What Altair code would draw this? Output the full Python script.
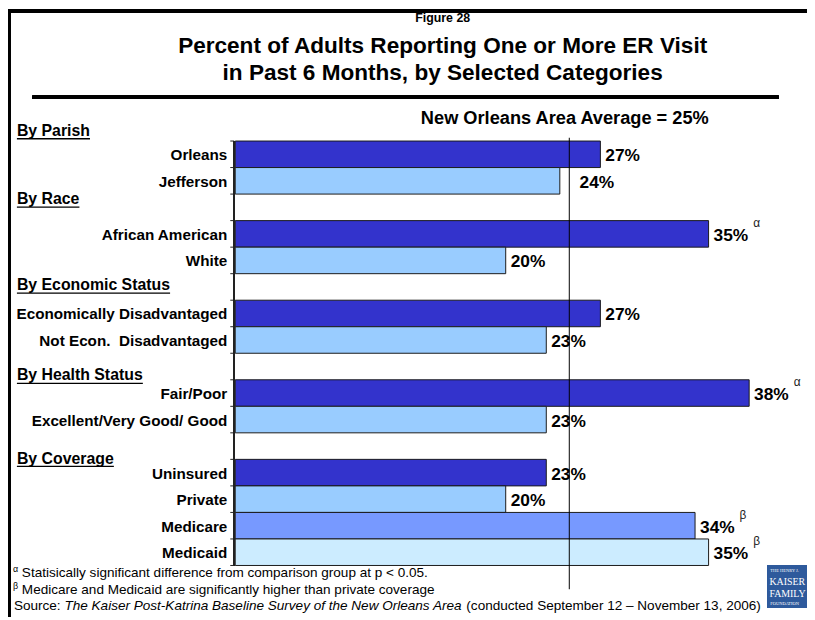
import altair as alt
import pandas as pd

# ---------------- data ----------------
categories = ["Orleans", "Jefferson", "African American", "White",
              "Economically Disadvantaged", "Not Econ.\u00a0 Disadvantaged",
              "Fair/Poor", "Excellent/Very Good/ Good",
              "Uninsured", "Private", "Medicare", "Medicaid"]
values = [27, 24, 35, 20, 27, 23, 38, 23, 23, 20, 34, 35]
tones = ["group", "comparison", "group", "comparison", "group", "comparison",
         "group", "comparison", "group", "comparison", "medicare", "medicaid"]
significance = ["", "", "α", "", "", "", "α", "", "", "", "β", "β"]
headers = ["By Parish", "By Race", "By Economic Status", "By Health Status", "By Coverage"]
average_value = 24.7
average_label = "New Orleans Area Average = 25%"
figure_label = "Figure 28"
title_line1 = "Percent of Adults Reporting One or More ER Visit"
title_line2 = "in Past 6 Months, by Selected Categories"
footnote_alpha = "Statisically significant difference from comparison group at p < 0.05."
footnote_beta = "Medicare and Medicaid are significantly higher than private coverage"
source_prefix = "Source: "
source_title = "The Kaiser Post-Katrina Baseline Survey of the New Orleans Area"
source_rest = "(conducted September 12 \u2013 November 13, 2006)"

# ---------------- layout ----------------
slots = [0, 1, 3, 4, 6, 7, 9, 10, 12, 13, 14, 15]
header_y = [121, 190, 277, 368, 452]
FONT = "Liberation Sans, Arial, sans-serif"
W, H = 807, 612
X0, PX = 229.5, 13.66
xs = alt.Scale(domain=[0, 40], range=[X0, X0 + PX * 40], nice=False, zero=False)
ys = alt.Scale(domain=[0, 16], range=[131.3, 560], nice=False, zero=False)
FN = 13.7

df = pd.DataFrame({"category": categories, "value": values, "tone": tones,
                   "sig": significance, "slot": slots})
df["y0"] = df["slot"]
df["y1"] = df["slot"] + 1
df["mid"] = df["slot"] + 0.5
df["zero"] = 0
df["label"] = df["value"].astype(str) + "%"

color = alt.Color("tone:N", legend=None,
                  scale=alt.Scale(domain=["group", "comparison", "medicare", "medicaid"],
                                  range=["#3333CC", "#99CCFF", "#7799FF", "#CCECFF"]))

base = alt.Chart(df)
bars = base.mark_bar(stroke="#1a1a1a", strokeWidth=1).encode(
    x=alt.X("value:Q", scale=xs, axis=None),
    x2="zero:Q",
    y=alt.Y("y0:Q", scale=ys, axis=None),
    y2="y1:Q",
    color=color,
)

lab_kw = dict(align="left", baseline="middle", font=FONT, fontWeight="bold",
              fontSize=17.5, color="black", dy=2)
vals = base.transform_filter("datum.category != 'Jefferson'").mark_text(dx=5, **lab_kw).encode(
    x=alt.X("value:Q", scale=xs), y=alt.Y("mid:Q", scale=ys), text="label:N")
vals_j = base.transform_filter("datum.category == 'Jefferson'").mark_text(dx=20, **lab_kw).encode(
    x=alt.X("value:Q", scale=xs), y=alt.Y("mid:Q", scale=ys), text="label:N")
sigs = base.transform_filter("datum.sig != ''").mark_text(
    align="left", baseline="middle", font=FONT, fontSize=12, color="#222",
    dx=45, dy=-11).encode(
    x=alt.X("value:Q", scale=xs), y=alt.Y("mid:Q", scale=ys), text="sig:N")

cats = base.mark_text(align="right", baseline="middle", font=FONT, fontWeight="bold",
                      fontSize=15.4, color="black", dy=1).encode(
    x=alt.value(X0 - 8), y=alt.Y("mid:Q", scale=ys), text="category:N")

# axis line with ticks
bounds = pd.DataFrame({"b": list(range(17))})
axis_line = alt.Chart(bounds).mark_rule(color="#222", strokeWidth=1).encode(
    x=alt.value(X0 - 1), y=alt.value(131.3), y2=alt.value(560))
axis_ticks = alt.Chart(bounds).mark_rule(color="#222", strokeWidth=1).encode(
    x=alt.value(X0 - 5), x2=alt.value(X0 - 1), y=alt.Y("b:Q", scale=ys))

avg_df = pd.DataFrame({"avg": [average_value], "label": [average_label]})
avg_rule = alt.Chart(avg_df).mark_rule(color="black", strokeWidth=1).encode(
    x=alt.X("avg:Q", scale=xs), y=alt.value(128), y2=alt.value(584))
avg_text = alt.Chart(avg_df).mark_text(align="left", baseline="middle", font=FONT,
                                       fontWeight="bold", fontSize=18.4, color="black").encode(
    x=alt.value(417), y=alt.value(108), text="label:N")


def text_layer(txt, x, y, size, weight="normal", align="left", style="normal", color="black", font=FONT):
    return alt.Chart(pd.DataFrame({"t": [txt]})).mark_text(
        align=align, baseline="middle", font=font, fontSize=size, fontWeight=weight,
        fontStyle=style, color=color).encode(x=alt.value(x), y=alt.value(y), text="t:N")


# group headers with underlines (underline width from Arial-bold metrics, em units)
hdr_em = {"By Parish": 4.613, "By Race": 3.946, "By Economic Status": 9.669,
          "By Health Status": 7.95, "By Coverage": 6.12}
hdr_layers = []
for h, yy in zip(headers, header_y):
    hdr_layers.append(text_layer(h, 9, yy, 16, "bold"))
    hdr_layers.append(
        alt.Chart(pd.DataFrame({"h": [h]})).mark_rule(color="black", strokeWidth=1.3).encode(
            x=alt.value(9), x2=alt.value(9 + hdr_em[h] * 16), y=alt.value(yy + 8)))

frame_top = alt.Chart(bounds).mark_rule(color="black", strokeWidth=2.5).encode(
    x=alt.value(0), x2=alt.value(W), y=alt.value(0))
frame_left = alt.Chart(bounds).mark_rule(color="black", strokeWidth=2.5).encode(
    x=alt.value(1), y=alt.value(0), y2=alt.value(H))
title_rule = alt.Chart(bounds).mark_rule(color="black", strokeWidth=3.5).encode(
    x=alt.value(25), x2=alt.value(778), y=alt.value(87))

titles = [
    text_layer(figure_label, 439, 7, 12.5, "bold", "center"),
    text_layer(title_line1, 439, 35, 22.8, "bold", "center"),
    text_layer(title_line2, 439, 63, 22.8, "bold", "center"),
]

it_x = 6 + 3.724 * FN
rest_x = it_x + 29.63 * FN
foot = [
    text_layer("α", 5, 564, 9),
    text_layer(footnote_alpha, 14, 568, FN),
    text_layer("β", 5, 581, 9),
    text_layer(footnote_beta, 14, 585, FN),
    text_layer(source_prefix, 6, 601, FN),
    text_layer(source_title, it_x, 601, FN, style="italic"),
    text_layer(source_rest, rest_x, 601, FN),
]

logo_box = alt.Chart(bounds).mark_rect(color="#2E5A9C").encode(
    x=alt.value(767), x2=alt.value(W), y=alt.value(560), y2=alt.value(603))
logo = [
    text_layer("THE HENRY J.", 770, 566, 4.5, color="white", font="Liberation Serif"),
    text_layer("KAISER", 769, 577, 10, color="white", font="Liberation Serif"),
    text_layer("FAMILY", 769, 589, 10, color="white", font="Liberation Serif"),
    text_layer("FOUNDATION", 770, 599, 4.5, color="white", font="Liberation Serif"),
]

chart = alt.layer(
    frame_top, frame_left, title_rule, *titles, avg_text,
    bars, axis_line, axis_ticks, avg_rule, vals, vals_j, sigs, cats, *hdr_layers,
    *foot, logo_box, *logo,
).properties(width=W, height=H, autosize="none", padding=0).configure_view(stroke=None)

chart.save("out.html", embed_options={"renderer": "svg", "actions": False})
